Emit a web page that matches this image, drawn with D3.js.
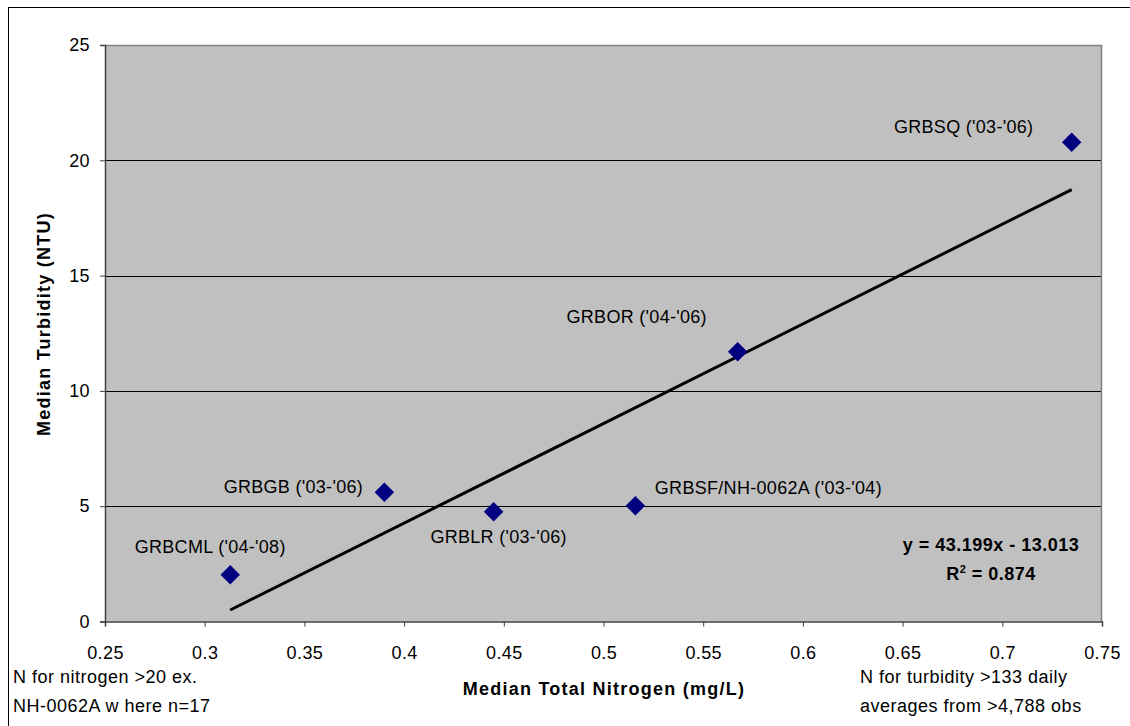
<!DOCTYPE html>
<html>
<head>
<meta charset="utf-8">
<script src="https://cdn.jsdelivr.net/npm/d3@7"></script>
<style>
  html, body { margin: 0; padding: 0; background: #fff; }
  svg { display: block; }
  text { font-family: "Liberation Sans", Arial, sans-serif; fill: #000; }
</style>
</head>
<body>
<svg id="chart" width="1130" height="726"></svg>
<script>
// Monitoring sites and their medians
const siteNames = ["GRBCML ('04-'08)", "GRBGB ('03-'06)", "GRBLR ('03-'06)",
                   "GRBSF/NH-0062A ('03-'04)", "GRBOR ('04-'06)", "GRBSQ ('03-'06)"];
const nitrogen  = [0.3128, 0.3901, 0.4449, 0.5160, 0.5673, 0.7348];
const turbidity = [2.03, 5.60, 4.76, 5.02, 11.70, 20.78];

// Linear fit reported with the chart
const fitSlope = 43.199;
const fitIntercept = -13.013;
const fitR2 = 0.874;

// Axis ticks
const xTicks = [0.25, 0.3, 0.35, 0.4, 0.45, 0.5, 0.55, 0.6, 0.65, 0.7, 0.75];
const yTicks = [0, 5, 10, 15, 20, 25];

// Label placement relative to each marker (centre of text, baseline)
const labelOffsets = [[-20, -22], [-91, 1], [5, 31], [133, -12], [-101, -29], [-108, -9]];

const svg = d3.select("#chart");
const plot = { left: 105, right: 1102, top: 45, bottom: 621.5 };

const x = d3.scaleLinear().domain([0.25, 0.75]).range([plot.left, plot.right]);
const y = d3.scaleLinear().domain([0, 25]).range([plot.bottom, plot.top]);

// Outer chart frame (runs past the right and bottom edges)
svg.append("rect")
  .attr("x", 8.5).attr("y", 7.5)
  .attr("width", 1200).attr("height", 800)
  .attr("fill", "none").attr("stroke", "#000").attr("stroke-width", 1);

// Plot background
svg.append("rect")
  .attr("x", plot.left).attr("y", plot.top)
  .attr("width", plot.right - plot.left).attr("height", plot.bottom - plot.top)
  .attr("fill", "#c0c0c0");

// Horizontal gridlines
svg.append("g")
  .selectAll("line")
  .data(yTicks.filter(d => d > 0 && d < 25))
  .join("line")
  .attr("x1", plot.left).attr("x2", plot.right)
  .attr("y1", d => Math.round(y(d)) + 0.5).attr("y2", d => Math.round(y(d)) + 0.5)
  .attr("stroke", "#000").attr("stroke-width", 1);

// Plot border (top and right)
svg.append("path")
  .attr("d", `M${plot.left},${plot.top + 0.5}H${plot.right - 0.5}V${plot.bottom}`)
  .attr("fill", "none").attr("stroke", "#808080").attr("stroke-width", 1.5);

// Axes
const tickFont = "18px";
const xAxis = d3.axisBottom(x).tickValues(xTicks).tickSize(5).tickPadding(20)
  .tickFormat(d => String(+d.toFixed(2)));
const gx = svg.append("g").attr("transform", `translate(0,${plot.bottom})`).call(xAxis);
gx.select(".domain").attr("stroke", "#404040").attr("stroke-width", 1.5);
gx.selectAll(".tick line").attr("stroke", "#404040");
gx.selectAll(".tick text")
  .attr("font-size", tickFont).attr("letter-spacing", "0.4px")
  .attr("font-family", "Liberation Sans, Arial, sans-serif").attr("fill", "#000");

const yAxis = d3.axisLeft(y).tickValues(yTicks).tickSize(5).tickPadding(10);
const gy = svg.append("g").attr("transform", `translate(${plot.left},0)`).call(yAxis);
gy.select(".domain").attr("stroke", "#404040").attr("stroke-width", 1.5);
gy.selectAll(".tick line").attr("stroke", "#404040");
gy.selectAll(".tick text")
  .attr("font-size", tickFont).attr("letter-spacing", "0.4px")
  .attr("font-family", "Liberation Sans, Arial, sans-serif").attr("fill", "#000");

// Trend line over the observed nitrogen range
const xExt = d3.extent(nitrogen);
svg.append("line")
  .attr("x1", x(xExt[0])).attr("y1", y(fitSlope * xExt[0] + fitIntercept))
  .attr("x2", x(xExt[1])).attr("y2", y(fitSlope * xExt[1] + fitIntercept))
  .attr("stroke", "#000").attr("stroke-width", 3);

// Diamond markers
const points = siteNames.map((name, i) => ({ name, n: nitrogen[i], t: turbidity[i], off: labelOffsets[i] }));
const diamond = d3.symbol().type(d3.symbolSquare).size(190);
svg.append("g")
  .selectAll("path")
  .data(points)
  .join("path")
  .attr("d", diamond)
  .attr("transform", d => `translate(${x(d.n)},${y(d.t)}) rotate(45)`)
  .attr("fill", "#000080");

// Site labels
svg.append("g")
  .selectAll("text")
  .data(points)
  .join("text")
  .attr("x", d => x(d.n) + d.off[0])
  .attr("y", d => y(d.t) + d.off[1])
  .attr("text-anchor", "middle")
  .attr("font-size", "18px")
  .attr("letter-spacing", "0.3px")
  .text(d => d.name);

// Regression equation
svg.append("text")
  .attr("x", 991).attr("y", 551)
  .attr("text-anchor", "middle")
  .attr("font-size", "18px").attr("font-weight", "bold").attr("letter-spacing", "0.5px")
  .text(`y = ${fitSlope}x - ${Math.abs(fitIntercept).toFixed(3)}`);
const r2 = svg.append("text")
  .attr("x", 991).attr("y", 580)
  .attr("text-anchor", "middle")
  .attr("font-size", "18px").attr("font-weight", "bold").attr("letter-spacing", "0.5px");
r2.append("tspan").text("R");
r2.append("tspan").attr("font-size", "11px").attr("dy", -7).text("2");
r2.append("tspan").attr("dy", 7).text(` = ${fitR2}`);

// Axis titles
svg.append("text")
  .attr("x", 604).attr("y", 695)
  .attr("text-anchor", "middle")
  .attr("font-size", "18px").attr("font-weight", "bold").attr("letter-spacing", "1.25px")
  .text("Median Total Nitrogen (mg/L)");

svg.append("text")
  .attr("transform", "translate(50,324) rotate(-90)")
  .attr("text-anchor", "middle")
  .attr("font-size", "18px").attr("font-weight", "bold").attr("letter-spacing", "1.25px")
  .text("Median Turbidity (NTU)");

// Sample-size notes
const noteLeft = ["N for nitrogen >20 ex.", "NH-0062A w here n=17"];
const noteRight = ["N for turbidity >133 daily", "averages from >4,788 obs"];
svg.append("g").selectAll("text").data(noteLeft).join("text")
  .attr("x", 13).attr("y", (d, i) => 683 + i * 28.5)
  .attr("font-size", "18px").attr("letter-spacing", "0.5px")
  .text(d => d);
svg.append("g").selectAll("text").data(noteRight).join("text")
  .attr("x", 860).attr("y", (d, i) => 683 + i * 28.5)
  .attr("font-size", "18px").attr("letter-spacing", "0.5px")
  .text(d => d);
</script>
</body>
</html>
